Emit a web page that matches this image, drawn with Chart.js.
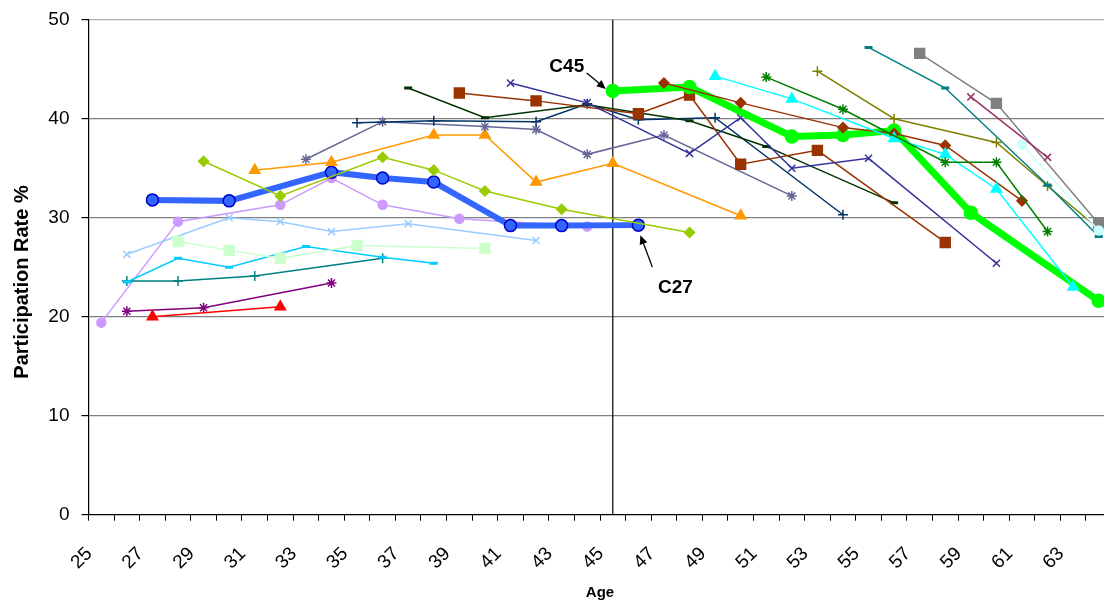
<!DOCTYPE html>
<html>
<head>
<meta charset="utf-8">
<script src="https://cdn.jsdelivr.net/npm/chart.js@4.4.1/dist/chart.umd.min.js"></script>
<style>
html, body { margin: 0; padding: 0; background: #fff; overflow: hidden; }
#chart { display: block; width: 1120px; height: 603px; }
</style>
</head>
<body>
<canvas id="chart" width="1120" height="603"></canvas>
<script>
// Age categories on the x axis
const ages = ['25','26','27','28','29','30','31','32','33','34','35','36','37','38','39','40','41','42','43','44',
              '45','46','47','48','49','50','51','52','53','54','55','56','57','58','59','60','61','62','63','64'];
const yTicks = [0, 10, 20, 30, 40, 50];

// Cohort series: ages observed and participation rate %
const c25Ages = [25, 28, 32, 34, 36, 39, 44];
const c25Vals = [19.4, 29.6, 31.3, 34.0, 31.3, 29.9, 29.1];
const purpleAges = [26, 29, 34];
const purpleVals = [20.55, 20.9, 23.4];
const redAges = [27, 32];
const redVals = [20.0, 21.0];
const tealPlusAges = [26, 28, 31, 36];
const tealPlusVals = [23.6, 23.6, 24.1, 25.9];
const skyAges = [26, 28, 30, 33, 36, 38];
const skyVals = [23.5, 25.9, 25.0, 27.1, 26.0, 25.4];
const paleBlueAges = [26, 30, 32, 34, 37, 42];
const paleBlueVals = [26.3, 30.0, 29.6, 28.6, 29.4, 27.7];
const paleGreenAges = [28, 30, 32, 35, 40];
const paleGreenVals = [27.6, 26.7, 25.9, 27.2, 26.9];
const c27Ages = [27, 30, 34, 36, 38, 41, 43, 46];
const c27Vals = [31.8, 31.7, 34.6, 34.0, 33.6, 29.2, 29.2, 29.25];
const c29Ages = [29, 32, 36, 38, 40, 43, 48];
const c29Vals = [35.7, 32.2, 36.1, 34.8, 32.7, 30.85, 28.5];
const c31Ages = [31, 34, 38, 40, 42, 45, 50];
const c31Vals = [34.8, 35.6, 38.35, 38.35, 33.6, 35.5, 30.2];
const c33Ages = [33, 36, 40, 42, 44, 47, 52];
const c33Vals = [35.9, 39.7, 39.2, 38.9, 36.4, 38.35, 32.2];
const c35Ages = [35, 38, 42, 44, 46, 49, 54];
const c35Vals = [39.6, 39.8, 39.7, 41.5, 39.9, 40.1, 30.3];
const c37Ages = [37, 40, 44, 46, 48, 51, 56];
const c37Vals = [43.1, 40.1, 41.4, 40.6, 39.8, 37.2, 31.5];
const c39Ages = [39, 42, 46, 48, 50, 53, 58];
const c39Vals = [42.6, 41.8, 40.5, 42.4, 35.4, 36.8, 27.5];
const c41Ages = [41, 44, 48, 50, 52, 55, 60];
const c41Vals = [43.6, 41.6, 36.5, 40.1, 35.0, 36.0, 25.4];
const c45Ages = [45, 48, 52, 54, 56, 59, 64];
const c45Vals = [42.8, 43.2, 38.2, 38.35, 38.8, 30.5, 21.6];
const c47Ages = [47, 50, 54, 56, 58, 61];
const c47Vals = [43.6, 41.6, 39.1, 38.5, 37.3, 31.7];
const c49Ages = [49, 52, 56, 58, 60, 63];
const c49Vals = [44.3, 42.0, 38.0, 36.4, 32.9, 23.0];
const c51Ages = [51, 54, 58, 60, 62];
const c51Vals = [44.2, 40.95, 35.6, 35.6, 28.6];
const c53Ages = [53, 56, 60, 62, 64];
const c53Vals = [44.8, 40.0, 37.6, 33.2, 28.9];
const c55Ages = [55, 58, 62, 64];
const c55Vals = [47.2, 43.1, 33.3, 28.1];
const c57Ages = [57, 60, 64];
const c57Vals = [46.6, 41.55, 29.4];
const c59Ages = [59, 62];
const c59Vals = [42.2, 36.1];
const c61Ages = [61, 64];
const c61Vals = [37.4, 28.7];

// build one line dataset
function series(name, a, v, color, style, radius, extra) {
  return Object.assign({
    label: name,
    data: a.map((age, i) => ({ x: String(age), y: v[i] })),
    borderColor: color,
    backgroundColor: color,
    pointBackgroundColor: color,
    pointBorderColor: color,
    borderWidth: 1.5,
    pointStyle: style,
    pointRadius: radius,
    pointHoverRadius: radius,
    pointBorderWidth: 1.5,
    spanGaps: true,
    tension: 0
  }, extra || {});
}

const datasets = [
  series('C25', c25Ages, c25Vals, '#CC99FF', 'circle', 4.5),
  series('S26', purpleAges, purpleVals, '#800080', 'star', 5),
  series('S27', redAges, redVals, '#FF0000', 'triangle', 6),
  series('T26', tealPlusAges, tealPlusVals, '#008080', 'cross', 5),
  series('K26', skyAges, skyVals, '#00CCFF', 'line', 4, { pointBorderWidth: 3 }),
  series('B26', paleBlueAges, paleBlueVals, '#99CCFF', 'crossRot', 5),
  series('G28', paleGreenAges, paleGreenVals, '#CCFFCC', 'rect', 7),
  series('C27', c27Ages, c27Vals, '#3366FF', 'circle', 6,
    { borderWidth: 6, pointBorderColor: '#0000CC', pointBorderWidth: 1.5 }),
  series('C29', c29Ages, c29Vals, '#99CC00', 'rectRot', 5),
  series('C31', c31Ages, c31Vals, '#FF9900', 'triangle', 6),
  series('C33', c33Ages, c33Vals, '#666699', 'star', 5),
  series('C35', c35Ages, c35Vals, '#003366', 'cross', 5),
  series('C37', c37Ages, c37Vals, '#003300', 'line', 4, { pointBorderWidth: 3 }),
  series('C39', c39Ages, c39Vals, '#993300', 'rect', 7),
  series('C41', c41Ages, c41Vals, '#333399', 'crossRot', 5),
  series('C45', c45Ages, c45Vals, '#00FF00', 'circle', 6.5, { borderWidth: 7 }),
  series('C47', c47Ages, c47Vals, '#993300', 'rectRot', 5),
  series('C49', c49Ages, c49Vals, '#00FFFF', 'triangle', 6),
  series('C51', c51Ages, c51Vals, '#008000', 'star', 5),
  series('C53', c53Ages, c53Vals, '#808000', 'cross', 5),
  series('C55', c55Ages, c55Vals, '#008080', 'line', 4, { pointBorderWidth: 3 }),
  series('C57', c57Ages, c57Vals, '#808080', 'rect', 7),
  series('C59', c59Ages, c59Vals, '#993366', 'crossRot', 5),
  series('C61', c61Ages, c61Vals, '#CCFFFF', 'circle', 4.5)
];
// later series sit on top
datasets.forEach((d, i) => { d.order = -i; });

function arrow(ctx, x1, y1, x2, y2) {
  const ang = Math.atan2(y2 - y1, x2 - x1);
  ctx.beginPath();
  ctx.moveTo(x1, y1);
  ctx.lineTo(x2 - 6 * Math.cos(ang), y2 - 6 * Math.sin(ang));
  ctx.stroke();
  ctx.beginPath();
  ctx.moveTo(x2, y2);
  ctx.lineTo(x2 - 9 * Math.cos(ang) + 4 * Math.sin(ang), y2 - 9 * Math.sin(ang) - 4 * Math.cos(ang));
  ctx.lineTo(x2 - 9 * Math.cos(ang) - 4 * Math.sin(ang), y2 - 9 * Math.sin(ang) + 4 * Math.cos(ang));
  ctx.closePath();
  ctx.fill();
}

const extras = {
  id: 'extras',
  beforeDatasetsDraw(chart) {
    const { ctx, chartArea, scales } = chart;
    const xv = scales.x.getPixelForValue(ages.indexOf('45'));
    ctx.save();
    ctx.strokeStyle = '#000';
    ctx.lineWidth = 1.2;
    ctx.beginPath();
    ctx.moveTo(xv, chartArea.top);
    ctx.lineTo(xv, chartArea.bottom);
    ctx.stroke();
    ctx.restore();
  },
  afterDraw(chart) {
    const { ctx, scales } = chart;
    const x = scales.x, y = scales.y;
    ctx.save();
    ctx.fillStyle = '#000';
    ctx.strokeStyle = '#000';
    ctx.lineWidth = 1.3;

    // C45 note, pointing at its first point
    const p45x = x.getPixelForValue(ages.indexOf(String(c45Ages[0])));
    const p45y = y.getPixelForValue(c45Vals[0]);
    arrow(ctx, p45x - 26, p45y - 18, p45x - 7, p45y - 2);
    ctx.font = 'bold 19px "Liberation Sans", Arial, sans-serif';
    ctx.textAlign = 'center';
    ctx.textBaseline = 'middle';
    ctx.fillText('C45', p45x - 46, p45y - 24);

    // C27 note, pointing at its last point
    const n = c27Ages.length - 1;
    const p27x = x.getPixelForValue(ages.indexOf(String(c27Ages[n])));
    const p27y = y.getPixelForValue(c27Vals[n]);
    arrow(ctx, p27x + 14, p27y + 42, p27x + 2, p27y + 10);
    ctx.fillText('C27', p27x + 37, p27y + 63);

    // y axis title
    ctx.translate(22, 282);
    ctx.rotate(-Math.PI / 2);
    ctx.font = 'bold 20px "Liberation Sans", Arial, sans-serif';
    ctx.fillText('Participation Rate %', 0, 0);
    ctx.restore();
  }
};

function noPad(s) {
  s.paddingLeft = 0; s.paddingRight = 0; s.paddingTop = 0; s.paddingBottom = 0;
}

new Chart(document.getElementById('chart'), {
  type: 'line',
  data: { labels: ages, datasets: datasets },
  plugins: [extras],
  options: {
    responsive: false,
    animation: false,
    devicePixelRatio: 1,
    layout: { padding: { top: 19.7, right: 1.2, bottom: 0, left: 0 } },
    plugins: { legend: { display: false }, tooltip: { enabled: false } },
    scales: {
      x: {
        type: 'category',
        offset: true,
        grid: { display: true, offset: true, drawOnChartArea: false, drawTicks: true, tickLength: 6, tickColor: '#000', color: '#000' },
        border: { display: true, color: '#000', width: 1.2 },
        ticks: {
          autoSkip: false, minRotation: 45, maxRotation: 45, padding: 22, labelOffset: -12,
          color: '#000',
          font: { family: '"Liberation Sans", Arial, sans-serif', size: 19 },
          callback: (v, i) => (Number(ages[i]) % 2 === 1 ? ages[i] : '')
        },
        title: { display: true, text: 'Age', color: '#000', padding: { top: 0, bottom: 1 },
          font: { family: '"Liberation Sans", Arial, sans-serif', size: 15, weight: 'bold' } },
        afterFit: (s) => { s.height = 88.3; noPad(s); }
      },
      y: {
        min: 0, max: 50,
        afterBuildTicks: (s) => { s.ticks = yTicks.map(v => ({ value: v })); },
        grid: {
          color: (c) => (c.tick.value === 50 ? '#b0b0b0' : (c.tick.value === 0 ? 'rgba(0,0,0,0)' : '#808080')),
          lineWidth: 1.2, tickLength: 7, tickColor: '#000'
        },
        border: { display: true, color: '#000', width: 1.2 },
        ticks: { padding: 12, color: '#000', font: { family: '"Liberation Sans", Arial, sans-serif', size: 19 } },
        afterFit: (s) => { s.width = 88.5; noPad(s); }
      }
    }
  }
});
</script>
</body>
</html>
